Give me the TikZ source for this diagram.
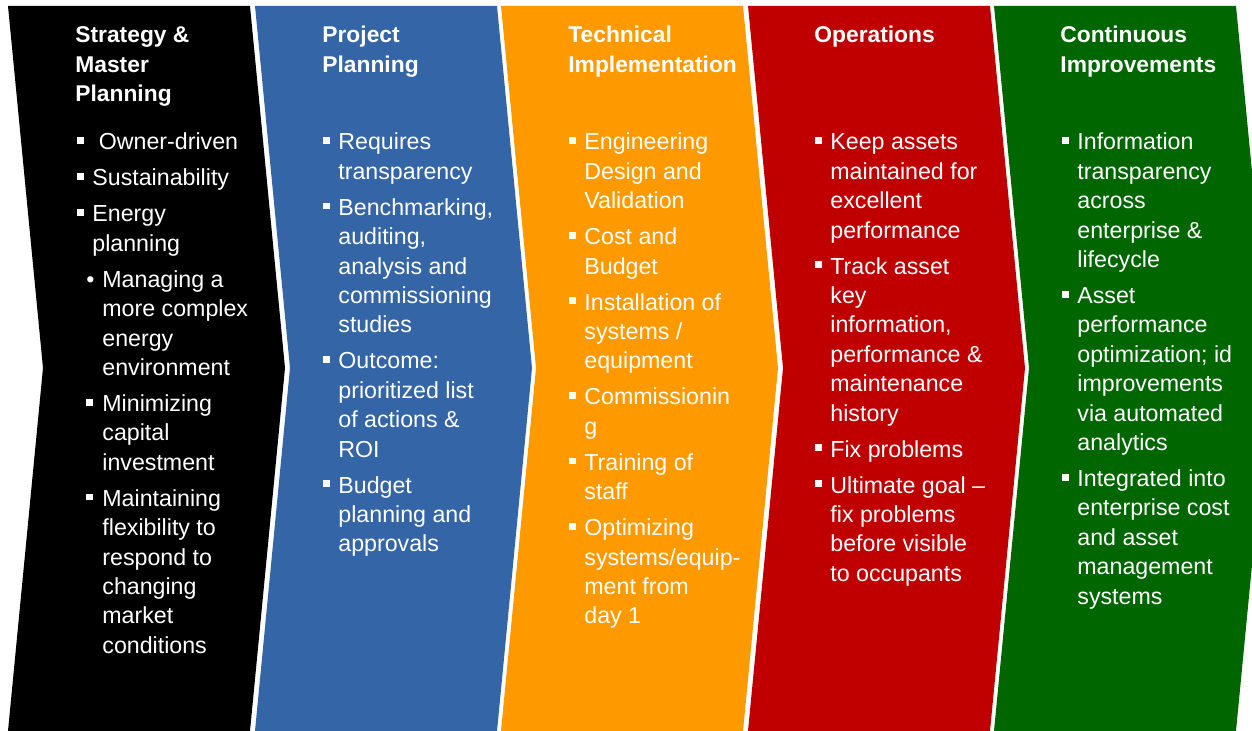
\documentclass[tikz,border=0pt]{standalone}
\usepackage{fontspec}
\setmainfont{Liberation Sans}
\usepackage{tikz}
\usetikzlibrary{positioning}
\definecolor{stageblack}{HTML}{000000}
\definecolor{stageblue}{HTML}{3465A6}
\definecolor{stageorange}{HTML}{FF9900}
\definecolor{stagered}{HTML}{C00000}
\definecolor{stagegreen}{HTML}{006600}
% bullets and hanging indents for the stage lists
\newcommand{\sqbul}{\makebox[7.5pt][l]{\rule[3pt]{3.4pt}{3.4pt}}}
\newcommand{\sqbulii}{\hspace*{4.5pt}\makebox[8pt][l]{\rule[3pt]{3.4pt}{3.4pt}}}
\newcommand{\dotbulii}{\hspace*{4.5pt}\makebox[8pt][l]{\textbullet}}
\newcommand{\contline}{\hspace*{7.5pt}}
\newcommand{\contlineii}{\hspace*{12.5pt}}
\newcommand{\stagegap}{3.3pt}

\begin{document}
\begin{tikzpicture}[
  x=0.5pt, y=-0.5pt,
  stagehead/.style={anchor=base west, inner sep=0pt, text=white,
    font=\bfseries\fontsize{11.4pt}{14.8pt}\selectfont},
  stagebody/.style={anchor=base west, inner sep=0pt, text=white,
    font=\fontsize{11.6pt}{14.7pt}\selectfont}
]
\useasboundingbox (0,0) rectangle (1252,731);
\fill[white] (0,0) rectangle (1252,731);
\clip (0,0) rectangle (1252,731);

% Five chevron stages, left to right
\fill[stageblack]  (8,6)   -- (250,6)  -- (285,368)  -- (250,731)  -- (8,731)   -- (43,368)  -- cycle;
\fill[stageblue]   (255,6) -- (497,6)  -- (532,368)  -- (497,731)  -- (255,731) -- (290,368) -- cycle;
\fill[stageorange] (501,6) -- (743,6)  -- (778,368)  -- (743,731)  -- (501,731) -- (536,368) -- cycle;
\fill[stagered]    (748,6) -- (990,6)  -- (1025,368) -- (990,731)  -- (748,731) -- (783,368) -- cycle;
\fill[stagegreen]  (994,6) -- (1236,6) -- (1271,368) -- (1236,731) -- (994,731) -- (1029,368) -- cycle;

% Stage headings
\node[stagehead] (strathead) at (75,42.5) {\begin{tabular}[t]{@{}l@{}}Strategy \&\\Master\\Planning\end{tabular}};
\node[stagehead] (planhead) at (322,42.5) {\begin{tabular}[t]{@{}l@{}}Project\\Planning\end{tabular}};
\node[stagehead] (techhead) at (568,42.5) {\begin{tabular}[t]{@{}l@{}}Technical\\Implementation\end{tabular}};
\node[stagehead] (opshead) at (814,42.5) {Operations};
\node[stagehead] (improvhead) at (1060,42.5) {\begin{tabular}[t]{@{}l@{}}Continuous\\Improvements\end{tabular}};

% Strategy & Master Planning
\node[stagebody] (stratbody) at (77,150) {\begin{tabular}[t]{@{}l@{}}
\sqbul\ Owner-driven\\[\stagegap]
\sqbul Sustainability\\[\stagegap]
\sqbul Energy\\
\contline planning\\[\stagegap]
\dotbulii Managing a\\
\contlineii more complex\\
\contlineii energy\\
\contlineii environment\\[\stagegap]
\sqbulii Minimizing\\
\contlineii capital\\
\contlineii investment\\[\stagegap]
\sqbulii Maintaining\\
\contlineii flexibility to\\
\contlineii respond to\\
\contlineii changing\\
\contlineii market\\
\contlineii conditions
\end{tabular}};

% Project Planning
\node[stagebody] (planbody) at (323,150) {\begin{tabular}[t]{@{}l@{}}
\sqbul Requires\\
\contline transparency\\[\stagegap]
\sqbul Benchmarking,\\
\contline auditing,\\
\contline analysis and\\
\contline commissioning\\
\contline studies\\[\stagegap]
\sqbul Outcome:\\
\contline prioritized list\\
\contline of actions \&\\
\contline ROI\\[\stagegap]
\sqbul Budget\\
\contline planning and\\
\contline approvals
\end{tabular}};

% Technical Implementation
\node[stagebody] (techbody) at (569,150) {\begin{tabular}[t]{@{}l@{}}
\sqbul Engineering\\
\contline Design and\\
\contline Validation\\[\stagegap]
\sqbul Cost and\\
\contline Budget\\[\stagegap]
\sqbul Installation of\\
\contline systems /\\
\contline equipment\\[\stagegap]
\sqbul Commissionin\\
\contline g\\[\stagegap]
\sqbul Training of\\
\contline staff\\[\stagegap]
\sqbul Optimizing\\
\contline systems/equip-\\
\contline ment from\\
\contline day 1
\end{tabular}};

% Operations
\node[stagebody] (opsbody) at (815,150) {\begin{tabular}[t]{@{}l@{}}
\sqbul Keep assets\\
\contline maintained for\\
\contline excellent\\
\contline performance\\[\stagegap]
\sqbul Track asset\\
\contline key\\
\contline information,\\
\contline performance \&\\
\contline maintenance\\
\contline history\\[\stagegap]
\sqbul Fix problems\\[\stagegap]
\sqbul Ultimate goal \textendash\\
\contline fix problems\\
\contline before visible\\
\contline to occupants
\end{tabular}};

% Continuous Improvements
\node[stagebody] (improvbody) at (1062,150) {\begin{tabular}[t]{@{}l@{}}
\sqbul Information\\
\contline transparency\\
\contline across\\
\contline enterprise \&\\
\contline lifecycle\\[\stagegap]
\sqbul Asset\\
\contline performance\\
\contline optimization; id\\
\contline improvements\\
\contline via automated\\
\contline analytics\\[\stagegap]
\sqbul Integrated into\\
\contline enterprise cost\\
\contline and asset\\
\contline management\\
\contline systems
\end{tabular}};

\end{tikzpicture}
\end{document}
